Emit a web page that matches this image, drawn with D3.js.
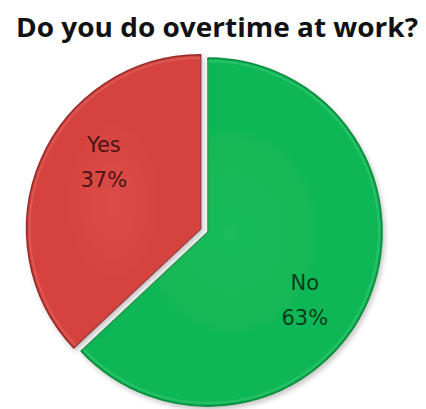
<!DOCTYPE html>
<html>
<head>
<meta charset="utf-8">
<script src="https://cdn.jsdelivr.net/npm/d3@7"></script>
<style>
  html, body { margin: 0; padding: 0; background: #ffffff; }
  svg { display: block; }
</style>
</head>
<body>
<svg id="chart" width="426" height="409"></svg>
<script>
// Survey answers, in clockwise order from 12 o'clock
const categories = ["No", "Yes"];
const values = [63, 37];
const percentLabels = ["63%", "37%"];
const titleText = "Do you do overtime at work?";

const W = 426, H = 409;
const cx = 208, cy = 232, R = 174;
const explode = { Yes: 8 };           // pulled-out slice distance (px)
const fills = { No: "#11b754", Yes: "#d6423e" };
const rims  = { No: "#0a8a3c", Yes: "#98292a" };
const lights = { No: "#1abd5b", Yes: "#dc4c47" };
const textFill = { No: "#0c3d1c", Yes: "#4a1414" };

const svg = d3.select("#chart");
const defs = svg.append("defs");

// soft shadow beneath the pie
const sh = defs.append("filter").attr("id", "shadow")
  .attr("x", "-10%").attr("y", "-10%").attr("width", "130%").attr("height", "130%");
sh.append("feDropShadow").attr("dx", 2).attr("dy", 3)
  .attr("stdDeviation", 2.5).attr("flood-color", "#000").attr("flood-opacity", 0.22);

categories.forEach(c => {
  const g = defs.append("radialGradient").attr("id", "grad-" + c)
    .attr("cx", "50%").attr("cy", "50%").attr("r", "50%");
  g.append("stop").attr("offset", "0%").attr("stop-color", lights[c]);
  g.append("stop").attr("offset", "60%").attr("stop-color", fills[c]);
  g.append("stop").attr("offset", "100%").attr("stop-color", fills[c]);
});

// Title
svg.append("text")
  .attr("x", 217).attr("y", 37)
  .attr("text-anchor", "middle")
  .attr("font-family", "'Open Sans', 'DejaVu Sans', sans-serif")
  .attr("font-weight", 700)
  .attr("font-size", 27)
  .attr("textLength", 402)
  .attr("lengthAdjust", "spacingAndGlyphs")
  .attr("fill", "#111")
  .text(titleText);

const data = categories.map((c, i) => ({ cat: c, value: values[i], label: percentLabels[i] }));

const pie = d3.pie().value(d => d.value).sort(null).startAngle(0).endAngle(2 * Math.PI);
const arcs = pie(data);
const arc = d3.arc().innerRadius(0).outerRadius(R);

const polar = (angle, r) => [Math.sin(angle) * r, -Math.cos(angle) * r];

const slices = svg.append("g").attr("transform", `translate(${cx},${cy})`);

const sliceG = slices.selectAll("g.slice").data(arcs).enter().append("g")
  .attr("class", "slice")
  .attr("transform", d => {
    const mid = (d.startAngle + d.endAngle) / 2;
    const off = explode[d.data.cat] || 0;
    const [dx, dy] = polar(mid, off);
    return `translate(${dx},${dy})`;
  });

sliceG.append("path")
  .attr("d", arc)
  .attr("fill", d => `url(#grad-${d.data.cat})`)
  .attr("stroke", d => rims[d.data.cat])
  .attr("stroke-width", 1.6)
  .attr("stroke-linejoin", "round")
  .attr("filter", "url(#shadow)");

// inner highlight just inside the rim for a bevelled look
const innerArc = d3.arc().innerRadius(0).outerRadius(R - 3);
sliceG.append("path")
  .attr("d", innerArc)
  .attr("fill", "none")
  .attr("stroke", "#ffffff")
  .attr("stroke-opacity", 0.12)
  .attr("stroke-width", 2);

// Category and percentage labels
const labelRadius = 118, labelTurn = 0.2;
sliceG.each(function(d) {
  const mid = (d.startAngle + d.endAngle) / 2 + labelTurn;
  const [lx, ly] = polar(mid, labelRadius);
  const t = d3.select(this).append("text")
    .attr("text-anchor", "middle")
    .attr("font-family", "'DejaVu Sans', sans-serif")
    .attr("font-size", 21)
    .attr("fill", textFill[d.data.cat]);
  t.append("tspan").attr("x", lx).attr("y", ly - 9).text(d.data.cat);
  t.append("tspan").attr("x", lx).attr("y", ly + 26).text(d.data.label);
});
</script>
</body>
</html>
